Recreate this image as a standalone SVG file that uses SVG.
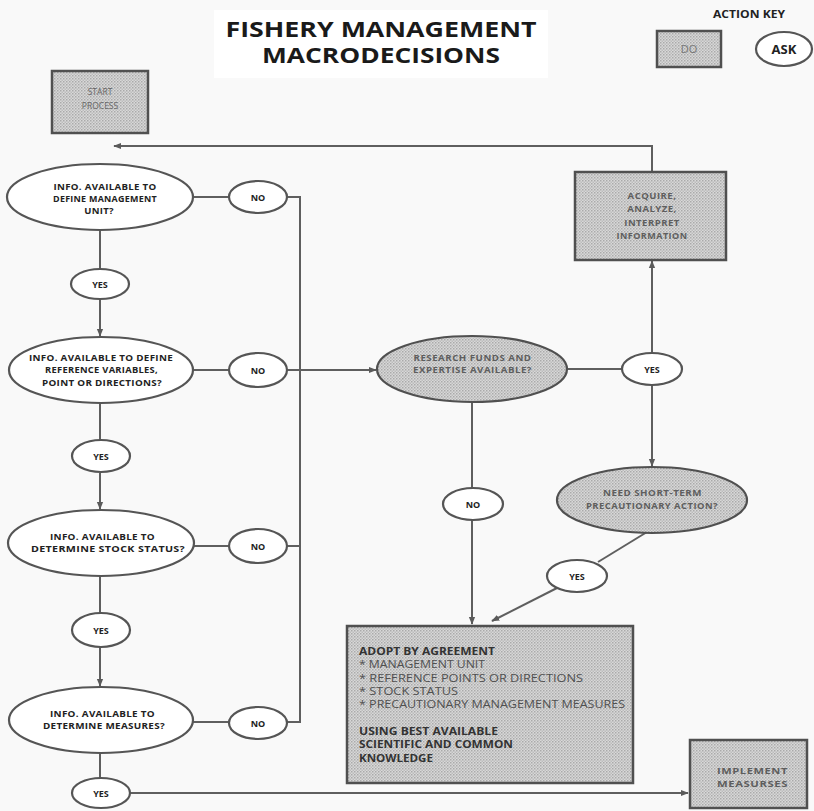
<svg xmlns="http://www.w3.org/2000/svg" width="814" height="811" viewBox="0 0 814 811">
  <defs>
    <pattern id="stipple" width="3" height="3" patternUnits="userSpaceOnUse">
      <rect width="3" height="3" fill="#d8d8d8"/>
      <rect width="1.5" height="1.5" fill="#aaaaaa"/>
      <rect x="1.5" y="1.5" width="1.5" height="1.5" fill="#bcbcbc"/>
    </pattern>
    <marker id="arrow" viewBox="0 0 10 10" refX="9" refY="5" markerWidth="8" markerHeight="8" markerUnits="userSpaceOnUse" orient="auto">
      <path d="M0,1 L10,5 L0,9 Z" fill="#5a5a5a"/>
    </marker>
    <style>
      text { font-family: "Open Sans", "Liberation Sans", sans-serif; }
      .ask { fill: #ffffff; stroke: #555555; stroke-width: 2.2; }
      .do { fill: url(#stipple); stroke: #505050; stroke-width: 2.5; }
      .askg { fill: url(#stipple); stroke: #505050; stroke-width: 2.2; }
      .q { font-size: 9.5px; font-weight: bold; fill: #222222; text-anchor: middle; letter-spacing: 0.3px; }
      .yn { font-size: 9px; font-weight: bold; fill: #222222; text-anchor: middle; }
      .g { font-size: 9.5px; font-weight: bold; fill: #5e5e5e; text-anchor: middle; letter-spacing: 0.5px; }
      .lst { font-size: 10px; fill: #505050; }
      .lstb { font-size: 10px; font-weight: bold; fill: #333333; }
      .conn line, .conn path { stroke: #5f5f5f; stroke-width: 2; fill: none; }
    </style>
  </defs>

  <rect width="814" height="811" fill="#f9f9f9"/>

  <!-- heading -->
  <g id="title">
    <rect x="214" y="10" width="334" height="68" fill="#ffffff"/>
    <text x="381" y="37" font-size="21" font-weight="bold" fill="#1a1a1a" text-anchor="middle" textLength="311" lengthAdjust="spacingAndGlyphs">FISHERY MANAGEMENT</text>
    <text x="381" y="63" font-size="21" font-weight="bold" fill="#1a1a1a" text-anchor="middle" textLength="238" lengthAdjust="spacingAndGlyphs">MACRODECISIONS</text>
  </g>

  <!-- legend -->
  <g id="action-key">
    <text x="749" y="18" font-size="10" font-weight="bold" fill="#222" text-anchor="middle" textLength="72" lengthAdjust="spacingAndGlyphs">ACTION KEY</text>
    <rect class="do" x="657" y="31" width="64" height="36"/>
    <text x="689" y="53" font-size="11" fill="#777" text-anchor="middle">DO</text>
    <ellipse class="ask" cx="784" cy="49" rx="28" ry="17"/>
    <text x="784" y="54" font-size="13" font-weight="bold" fill="#222" text-anchor="middle">ASK</text>
  </g>

  <!-- connectors -->
  <g id="connectors" class="conn">
    <path d="M652,172 V146 H114" marker-end="url(#arrow)"/>
    <line x1="193" y1="197" x2="229" y2="197"/>
    <path d="M287,197 H300 V722 H287"/>
    <line x1="287" y1="546" x2="300" y2="546"/>
    <line x1="193" y1="370" x2="229" y2="370"/>
    <line x1="287" y1="370" x2="376" y2="370" marker-end="url(#arrow)"/>
    <line x1="194" y1="546" x2="229" y2="546"/>
    <line x1="193" y1="722" x2="229" y2="722"/>
    <line x1="100" y1="230" x2="100" y2="270"/>
    <line x1="100" y1="298" x2="100" y2="336" marker-end="url(#arrow)"/>
    <line x1="100" y1="403" x2="100" y2="440"/>
    <line x1="100" y1="473" x2="100" y2="509" marker-end="url(#arrow)"/>
    <line x1="100" y1="576" x2="100" y2="613"/>
    <line x1="100" y1="647" x2="100" y2="686" marker-end="url(#arrow)"/>
    <line x1="100" y1="753" x2="100" y2="778"/>
    <line x1="130" y1="793" x2="688" y2="793" marker-end="url(#arrow)"/>
    <line x1="567" y1="369" x2="622" y2="369"/>
    <line x1="652" y1="353" x2="652" y2="261" marker-end="url(#arrow)"/>
    <line x1="652" y1="385" x2="652" y2="466" marker-end="url(#arrow)"/>
    <line x1="472" y1="402" x2="472" y2="488"/>
    <line x1="472" y1="520" x2="472" y2="624" marker-end="url(#arrow)"/>
    <line x1="647" y1="532" x2="598" y2="562"/>
    <line x1="557" y1="588" x2="492" y2="621" marker-end="url(#arrow)"/>
  </g>

  <g id="start">
    <rect class="do" x="52" y="71" width="96" height="62"/>
    <text x="100" y="95" font-size="8.5" fill="#666" text-anchor="middle">START</text>
    <text x="100" y="109" font-size="8.5" fill="#666" text-anchor="middle">PROCESS</text>
  </g>

  <g id="q-unit">
    <ellipse class="ask" cx="100" cy="197" rx="93" ry="33"/>
    <text class="q" x="105" y="189.5" textLength="103" lengthAdjust="spacingAndGlyphs">INFO. AVAILABLE TO</text>
    <text class="q" x="105" y="201.5" textLength="104" lengthAdjust="spacingAndGlyphs">DEFINE MANAGEMENT</text>
    <text class="q" x="99" y="213.5">UNIT?</text>
  </g>
  <g id="no-unit">
    <ellipse class="ask" cx="258" cy="197" rx="29" ry="16"/>
    <text class="yn" x="258" y="200.5">NO</text>
  </g>
  <g id="yes-unit">
    <ellipse class="ask" cx="100" cy="284" rx="29" ry="15"/>
    <text class="yn" x="100" y="287.5">YES</text>
  </g>

  <g id="q-reference">
    <ellipse class="ask" cx="101" cy="370" rx="92" ry="33"/>
    <text class="q" x="101" y="360.5" textLength="144" lengthAdjust="spacingAndGlyphs">INFO. AVAILABLE TO DEFINE</text>
    <text class="q" x="101.5" y="373" textLength="113" lengthAdjust="spacingAndGlyphs">REFERENCE VARIABLES,</text>
    <text class="q" x="102" y="385.5" textLength="120" lengthAdjust="spacingAndGlyphs">POINT OR DIRECTIONS?</text>
  </g>
  <g id="no-reference">
    <ellipse class="ask" cx="258" cy="370" rx="29" ry="17"/>
    <text class="yn" x="258" y="373.5">NO</text>
  </g>
  <g id="yes-reference">
    <ellipse class="ask" cx="101" cy="456" rx="29" ry="16"/>
    <text class="yn" x="101" y="459.5">YES</text>
  </g>

  <g id="q-status">
    <ellipse class="ask" cx="101" cy="543" rx="93" ry="33"/>
    <text class="q" x="102.5" y="539.5" textLength="105" lengthAdjust="spacingAndGlyphs">INFO. AVAILABLE TO</text>
    <text class="q" x="108" y="552" textLength="154" lengthAdjust="spacingAndGlyphs">DETERMINE STOCK STATUS?</text>
  </g>
  <g id="no-status">
    <ellipse class="ask" cx="258" cy="546" rx="29" ry="17"/>
    <text class="yn" x="258" y="549.5">NO</text>
  </g>
  <g id="yes-status">
    <ellipse class="ask" cx="101" cy="630" rx="29" ry="17"/>
    <text class="yn" x="101" y="633.5">YES</text>
  </g>

  <g id="q-measures">
    <ellipse class="ask" cx="101" cy="720" rx="92" ry="33"/>
    <text class="q" x="102.5" y="716.5" textLength="105" lengthAdjust="spacingAndGlyphs">INFO. AVAILABLE TO</text>
    <text class="q" x="104" y="729" textLength="122" lengthAdjust="spacingAndGlyphs">DETERMINE MEASURES?</text>
  </g>
  <g id="no-measures">
    <ellipse class="ask" cx="258" cy="723" rx="29" ry="16"/>
    <text class="yn" x="258" y="726.5">NO</text>
  </g>
  <g id="yes-measures">
    <ellipse class="ask" cx="101" cy="793" rx="29" ry="15"/>
    <text class="yn" x="101" y="796.5">YES</text>
  </g>

  <g id="q-research">
    <ellipse class="askg" cx="472" cy="369" rx="95" ry="33"/>
    <text class="g" x="472.5" y="360.5" textLength="118" lengthAdjust="spacingAndGlyphs">RESEARCH FUNDS AND</text>
    <text class="g" x="472.5" y="373" textLength="119" lengthAdjust="spacingAndGlyphs">EXPERTISE AVAILABLE?</text>
  </g>
  <g id="yes-research">
    <ellipse class="ask" cx="652" cy="369" rx="30" ry="16"/>
    <text class="yn" x="652" y="372.5">YES</text>
  </g>
  <g id="no-research">
    <ellipse class="ask" cx="473" cy="504" rx="30" ry="16"/>
    <text class="yn" x="473" y="507.5">NO</text>
  </g>

  <g id="acquire">
    <rect class="do" x="575" y="172" width="151" height="88"/>
    <text class="g" x="652" y="199">ACQUIRE,</text>
    <text class="g" x="652" y="212">ANALYZE,</text>
    <text class="g" x="652" y="226">INTERPRET</text>
    <text class="g" x="652" y="239" textLength="71" lengthAdjust="spacingAndGlyphs">INFORMATION</text>
  </g>

  <g id="q-precaution">
    <ellipse class="askg" cx="652" cy="500" rx="95" ry="33"/>
    <text class="g" x="652.5" y="495.5" textLength="99" lengthAdjust="spacingAndGlyphs">NEED SHORT-TERM</text>
    <text class="g" x="652" y="508.5" textLength="132" lengthAdjust="spacingAndGlyphs">PRECAUTIONARY ACTION?</text>
  </g>
  <g id="yes-precaution">
    <ellipse class="ask" cx="577" cy="576" rx="30" ry="16"/>
    <text class="yn" x="577" y="579.5">YES</text>
  </g>

  <g id="adopt">
    <rect class="do" x="347" y="626" width="286" height="157"/>
    <text class="lstb" x="359" y="655" textLength="136" lengthAdjust="spacingAndGlyphs">ADOPT BY AGREEMENT</text>
    <text class="lst" x="359" y="668" textLength="126" lengthAdjust="spacingAndGlyphs">* MANAGEMENT UNIT</text>
    <text class="lst" x="359" y="682" textLength="224" lengthAdjust="spacingAndGlyphs">* REFERENCE POINTS OR DIRECTIONS</text>
    <text class="lst" x="359" y="695" textLength="99" lengthAdjust="spacingAndGlyphs">* STOCK STATUS</text>
    <text class="lst" x="359" y="708" textLength="266" lengthAdjust="spacingAndGlyphs">* PRECAUTIONARY MANAGEMENT MEASURES</text>
    <text class="lstb" x="359" y="735" textLength="139" lengthAdjust="spacingAndGlyphs">USING BEST AVAILABLE</text>
    <text class="lstb" x="359" y="748" textLength="154" lengthAdjust="spacingAndGlyphs">SCIENTIFIC AND COMMON</text>
    <text class="lstb" x="359" y="762" textLength="74" lengthAdjust="spacingAndGlyphs">KNOWLEDGE</text>
  </g>

  <g id="implement">
    <rect class="do" x="690" y="740" width="117" height="68"/>
    <text class="g" x="752.5" y="773.5" fill="#444" textLength="71" lengthAdjust="spacingAndGlyphs">IMPLEMENT</text>
    <text class="g" x="752.5" y="786.5" fill="#444" textLength="71" lengthAdjust="spacingAndGlyphs">MEASURSES</text>
  </g>
</svg>
